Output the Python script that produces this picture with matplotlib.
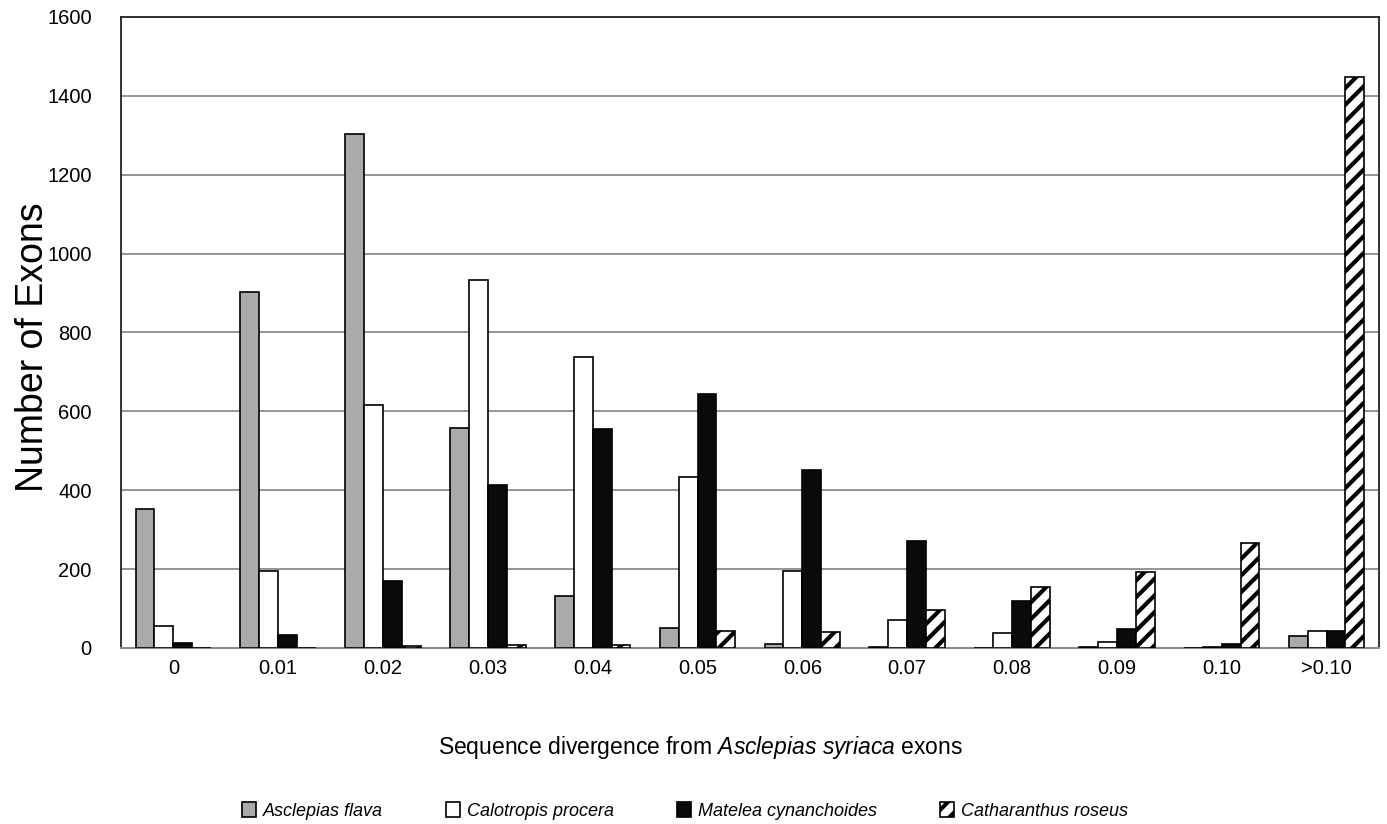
import numpy as np
import matplotlib
matplotlib.use("Agg")
import matplotlib.pyplot as plt

plt.rcParams['font.family'] = ['Liberation Sans', 'DejaVu Sans']
plt.rcParams['mathtext.fontset'] = 'custom'
plt.rcParams['mathtext.rm'] = 'Liberation Sans'
plt.rcParams['mathtext.it'] = 'Liberation Sans:italic'
plt.rcParams['hatch.linewidth'] = 3.0

# Data
categories = ['0', '0.01', '0.02', '0.03', '0.04', '0.05', '0.06',
              '0.07', '0.08', '0.09', '0.10', '>0.10']
flava = [353, 903, 1302, 558, 133, 50, 10, 2, 0, 2, 0, 30]
calotropis = [56, 195, 617, 932, 738, 433, 195, 70, 37, 15, 3, 42]
matelea = [12, 33, 171, 413, 555, 645, 450, 270, 118, 48, 10, 42]
catharanthus = [1, 0, 5, 7, 7, 42, 40, 97, 155, 192, 265, 1447]

species = ['Asclepias flava', 'Calotropis procera',
           'Matelea cynanchoides', 'Catharanthus roseus']

fig = plt.figure(figsize=(13.87, 8.24), dpi=100)
ax = fig.add_axes([0.0872, 0.2136, 0.907, 0.766])

x = np.arange(len(categories))
w = 0.18
offsets = np.array([-1.5, -0.5, 0.5, 1.5]) * w

ax.bar(x + offsets[0], flava, w, color='#aaaaaa', edgecolor='black', linewidth=1.2,
       label=species[0], zorder=3)
ax.bar(x + offsets[1], calotropis, w, color='white', edgecolor='black', linewidth=1.2,
       label=species[1], zorder=3)
ax.bar(x + offsets[2], matelea, w, color='#0a0a0a', edgecolor='black', linewidth=1.2,
       label=species[2], zorder=3)
ax.bar(x + offsets[3], catharanthus, w, color='white', edgecolor='black', linewidth=1.2,
       hatch='//', label=species[3], zorder=3)

ax.set_xlim(-0.5, len(categories) - 0.5)
ax.set_ylim(0, 1600)
ax.set_yticks(np.arange(0, 1601, 200))
ax.set_xticks(x)
ax.set_xticklabels(categories)
ax.yaxis.grid(True, color='#8c8c8c', linewidth=1.3, zorder=0)
ax.set_axisbelow(True)
ax.tick_params(length=0, labelsize=14.5)
ax.tick_params(axis='y', pad=21)
ax.tick_params(axis='x', pad=8)

for s in ['top', 'right', 'left']:
    ax.spines[s].set_color('#222222')
    ax.spines[s].set_linewidth(1.3)
ax.spines['bottom'].set_color('#8c8c8c')
ax.spines['bottom'].set_linewidth(1.5)

fig.text(33 / 1387, 0.579, 'Number of Exons', rotation=90, ha='center', va='center',
         fontsize=27)
fig.text(0.505, 0.0934, r'Sequence divergence from $\it{Asclepias\ syriaca}$ exons',
         ha='center', va='center', fontsize=16.5)

fig.legend(loc='center', bbox_to_anchor=(0.494, 1 - 811 / 824), ncol=4, frameon=False,
           prop={'style': 'italic', 'size': 13}, handlelength=0.75, handleheight=0.9,
           handletextpad=0.4, columnspacing=3.5, borderpad=0)

fig.savefig('out.png', dpi=100)
